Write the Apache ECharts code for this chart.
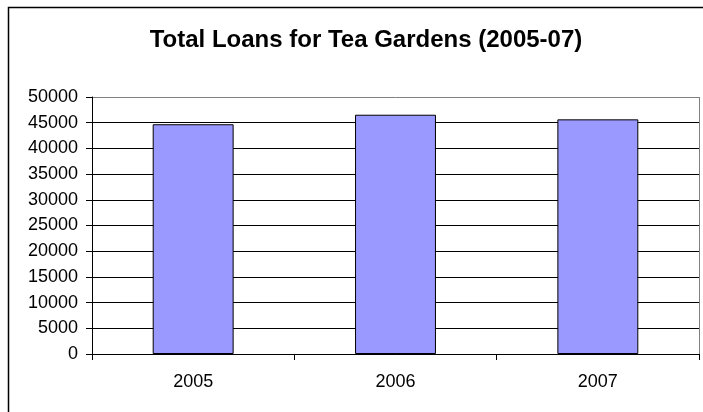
<!DOCTYPE html>
<html>
<head>
<meta charset="utf-8">
<style>
  html, body { margin: 0; padding: 0; background: #fff; }
  #chart { width: 703px; height: 412px; }
</style>
<script src="https://cdn.jsdelivr.net/npm/echarts@6/dist/echarts.min.js"></script>
</head>
<body>
<div id="chart"></div>
<script>
// Loan totals per year
const years = ['2005', '2006', '2007'];
const totalLoans = [44700, 46550, 45650];
const chartTitle = 'Total Loans for Tea Gardens (2005-07)';

const FONT = '"Liberation Sans", Arial, sans-serif';

// Horizontal gridlines are black; the topmost one doubles as the grey plot border
const gridColors = ['#000', '#000', '#000', '#000', '#000', '#000', '#000', '#000', '#000', '#000', '#808080'];

const chart = echarts.init(document.getElementById('chart'), null, { renderer: 'canvas' });
chart.setOption({
  animation: false,
  backgroundColor: '#fff',
  title: {
    text: chartTitle,
    left: 361,
    top: 23,
    textAlign: 'center',
    textStyle: { fontFamily: FONT, fontSize: 24, fontWeight: 'bold', color: '#000' }
  },
  graphic: [
    {
      type: 'rect',
      shape: { x: 8.5, y: 7.5, width: 760, height: 460 },
      style: { fill: null, stroke: '#000', lineWidth: 1.5 },
      silent: true,
      z: 100
    },
    {
      // right edge of the plot frame
      type: 'line',
      shape: { x1: 699.5, y1: 97, x2: 699.5, y2: 354 },
      style: { stroke: '#808080', lineWidth: 1 },
      silent: true,
      z: 100
    }
  ],
  grid: { left: 92, top: 97, right: 4, bottom: 58 },
  xAxis: {
    type: 'category',
    data: years,
    boundaryGap: true,
    axisLine: { show: true, lineStyle: { color: '#000', width: 1 } },
    axisTick: { show: true, length: 6, inside: false, alignWithLabel: false, lineStyle: { color: '#000' } },
    axisLabel: { margin: 19, fontFamily: FONT, fontSize: 18, color: '#000' },
    splitLine: { show: false }
  },
  yAxis: {
    type: 'value',
    min: 0,
    max: 50000,
    interval: 5000,
    axisLine: { show: true, lineStyle: { color: '#000', width: 1 } },
    axisTick: { show: true, length: 6, inside: false, lineStyle: { color: '#000' } },
    axisLabel: {
      margin: 14,
      fontFamily: FONT,
      fontSize: 18,
      color: '#000',
      formatter: (v) => String(v)
    },
    splitLine: { show: true, lineStyle: { color: gridColors, width: 1 } }
  },
  series: [
    {
      type: 'bar',
      data: totalLoans,
      barWidth: '40%',
      itemStyle: { color: '#9999FF', borderColor: '#000', borderWidth: 1 }
    }
  ]
});
</script>
</body>
</html>
